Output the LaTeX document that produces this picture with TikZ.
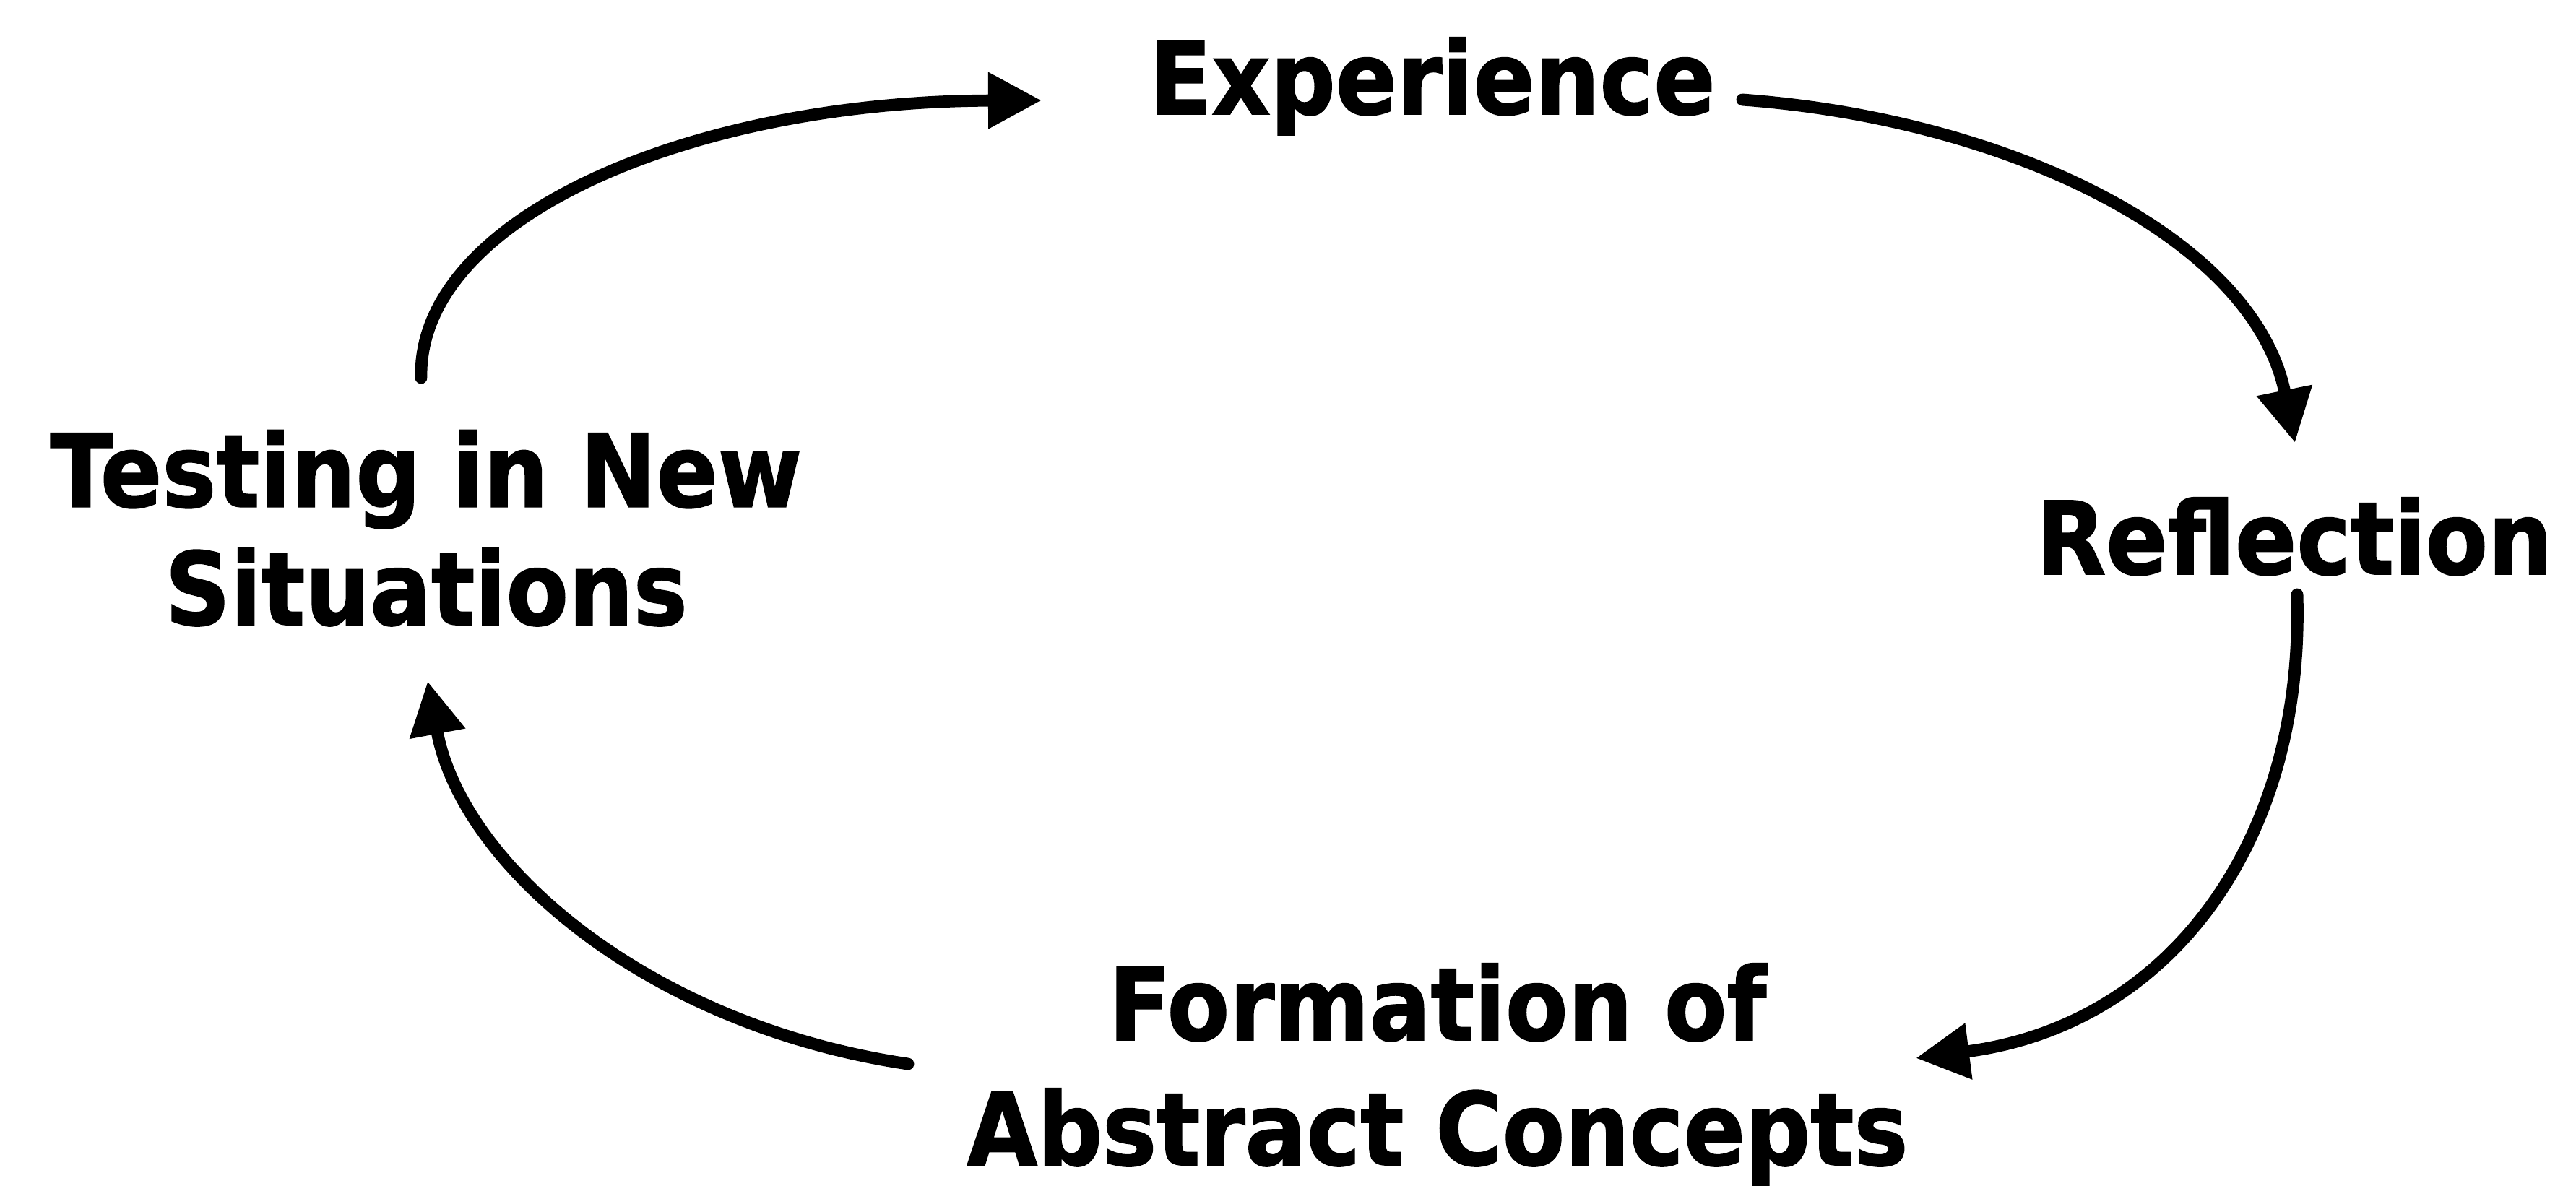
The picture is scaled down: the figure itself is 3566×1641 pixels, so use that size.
\documentclass[tikz,border=0pt]{standalone}
\usepackage{fontspec}
\usetikzlibrary{arrows.meta}
\newfontfamily\lblfont[FakeStretch=0.9,FakeBold=1.2]{DejaVu Sans}
\begin{document}
\begin{tikzpicture}[x=0.01cm,y=-0.01cm,
  lbl/.style={font=\lblfont\bfseries\fontsize{39.8pt}{46.4pt}\selectfont, inner sep=0pt, align=center, anchor=base},
  cyc/.style={line width=4.8pt, line cap=round, -{Triangle[length=0.74cm,width=0.74cm]}}]
\useasboundingbox[fill=white] (0,0) rectangle (3566,1641);
\node[lbl] (exp) at (1983,158) {Experience};
\node[lbl] (refl) at (3176,795) {Reflection};
\node[lbl,font=\lblfont\bfseries\fontsize{39.8pt}{49.2pt}\selectfont] (form) at (1990,1613) {Formation of\\Abstract Concepts};
\node[lbl] (test) at (590,865) {Testing in New\\Situations};
% connector end points
\coordinate (testOut) at (583,523);
\coordinate (expIn) at (1442,139);
\coordinate (expOut) at (2412,138);
\coordinate (reflIn) at (3177,613);
\coordinate (reflOut) at (3180,823);
\coordinate (formIn) at (2652,1465);
\coordinate (formOut) at (1257,1473);
\coordinate (testIn) at (592,943);
\draw[cyc] (testOut) .. controls (578,300) and (960,140) .. (expIn);
\draw[cyc] (expOut) .. controls (2780,165) and (3120,330) .. (reflIn);
\draw[cyc] (reflOut) .. controls (3190,1170) and (3000,1420) .. (formIn);
\draw[cyc] (formOut) .. controls (900,1420) and (640,1200) .. (testIn);
\end{tikzpicture}
\end{document}
